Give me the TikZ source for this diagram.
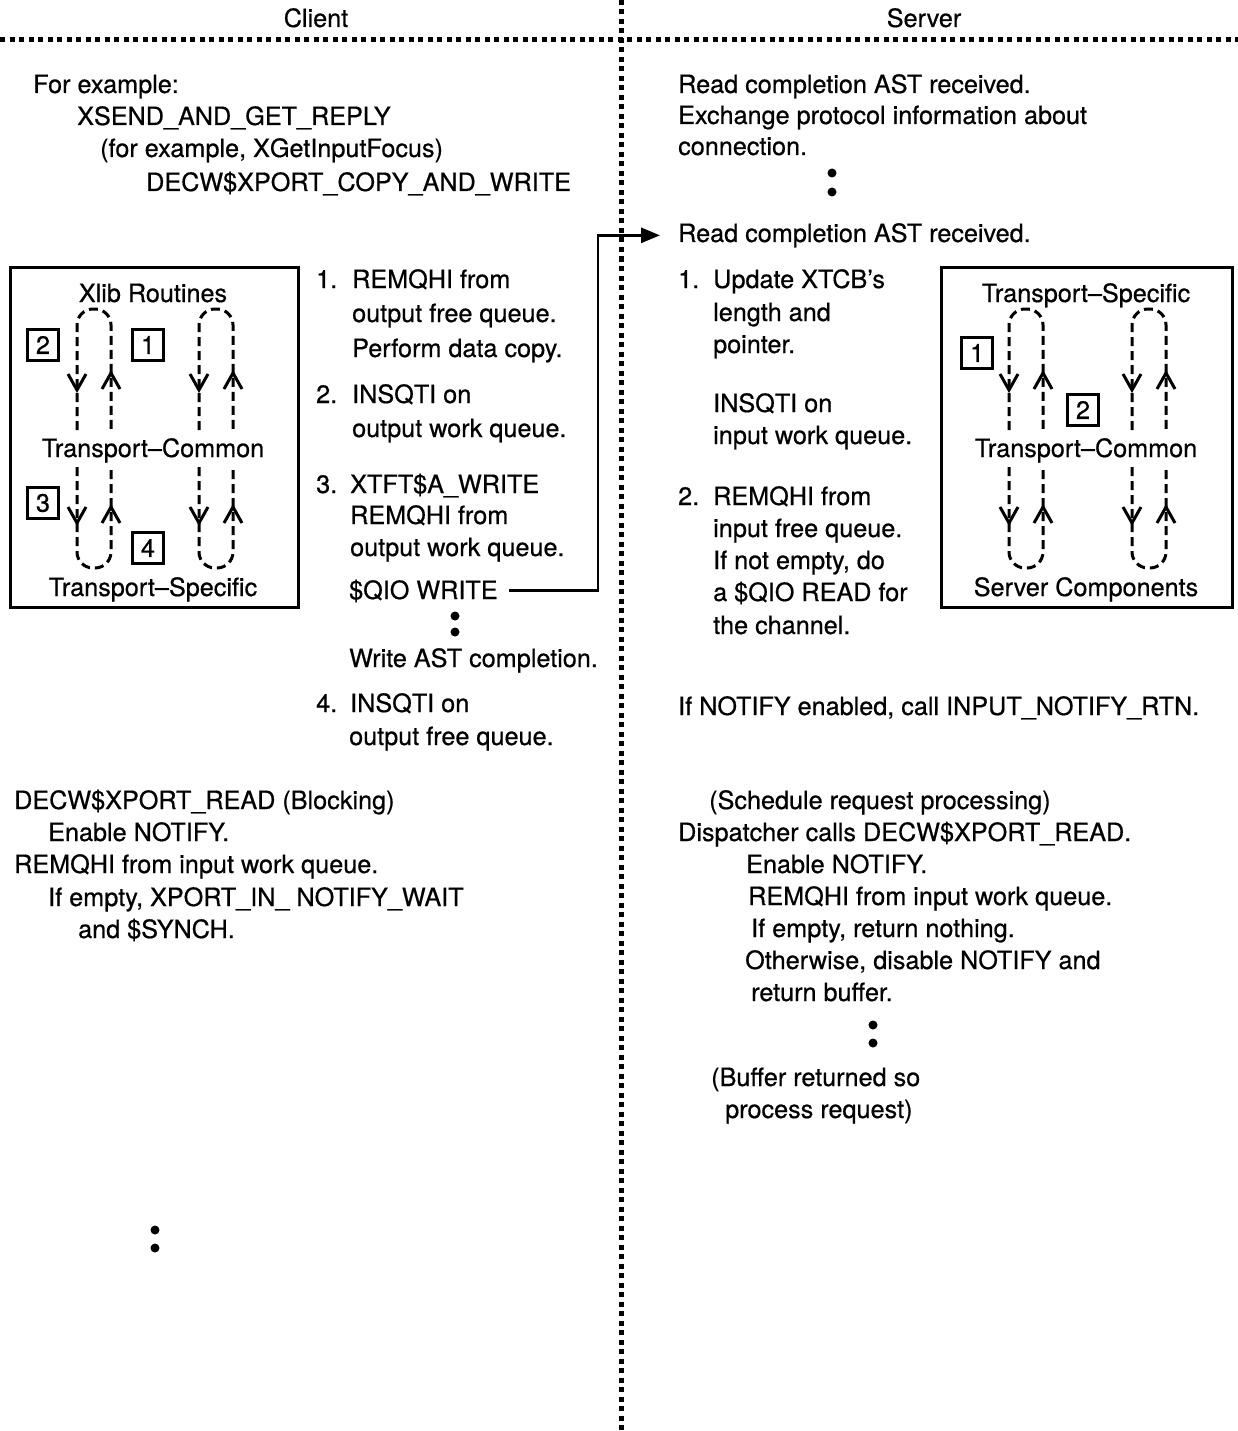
\documentclass[tikz,border=0pt]{standalone}
\usepackage{fontspec}
\setmainfont{TeX Gyre Heros}[FakeBold=0.6]
\usetikzlibrary{arrows.meta}

\tikzset{
  txt/.style={anchor=base west, inner sep=0pt},
  head/.style={anchor=base, inner sep=0pt},
  sepline/.style={line width=5pt, dash pattern=on 5pt off 4.5pt},
  layerbox/.style={draw, line width=3pt},
  numbox/.style={draw, line width=2.6pt, minimum size=31pt, inner sep=0pt},
  loopline/.style={line width=3pt, dash pattern=on 9pt off 5pt, rounded corners=16pt},
  tipline/.style={line width=3pt},
  flowarrow/.style={line width=2.8pt, -{Triangle[length=19pt,width=15pt]}},
}

\begin{document}
\begin{tikzpicture}[x=1pt, y=-1pt, font=\fontsize{25.2}{32}\selectfont]
    \useasboundingbox (0,0) rectangle (1238,1431);

    % headings and separators
    \node[head] (client) at (316,27) {Client};
    \node[head] (server) at (924,27) {Server};
    \draw[sepline] (0,40) -- (1238,40);
    \draw[sepline] (621,0) -- (621,1431);

    % client, top
    \node[txt] (forex) at (33,93) {For example:};
    \node[txt] (xsend) at (77,125) {XSEND\_AND\_GET\_REPLY};
    \node[txt] (getfocus) at (100,157) {(for example, XGetInputFocus)};
    \node[txt] (copywrite) at (146,191) {DECW\$XPORT\_COPY\_AND\_WRITE};

    % server, top
    \node[txt] (readone) at (678,93) {Read completion AST received.};
    \node[txt] (exchange) at (678,124) {Exchange protocol information about};
    \node[txt] (connection) at (678,155) {connection.};
    \fill (832,173) circle[radius=4.5pt] (832,192) circle[radius=4.5pt];
    \node[txt] (readtwo) at (678,242) {Read completion AST received.};

    % layer boxes
    \draw[layerbox] (10,267) rectangle (298,607);
    \draw[layerbox] (941,267) rectangle (1232,607);
    \node[head] (xlib) at (153,302) {Xlib Routines};
    \node[head] (ccommon) at (153,457) {Transport--Common};
    \node[head] (cspecific) at (153,596) {Transport--Specific};
    \node[head] (sspecific) at (1086,302) {Transport--Specific};
    \node[head] (scommon) at (1086,457) {Transport--Common};
    \node[head] (scomps) at (1086,596) {Server Components};
    \foreach \xa in {77,199,1009,1132} {
        \draw[loopline] (\xa,430) -- (\xa,309) -- (\xa+34,309) -- (\xa+34,430);
        \draw[loopline] (\xa,467) -- (\xa,568) -- (\xa+34,568) -- (\xa+34,467);
        \draw[tipline] (\xa-9,374) -- (\xa,390) -- (\xa+9,374);
        \draw[tipline] (\xa+25,389) -- (\xa+34,373) -- (\xa+43,389);
        \draw[tipline] (\xa-9,507) -- (\xa,523) -- (\xa+9,507);
        \draw[tipline] (\xa+25,523) -- (\xa+34,507) -- (\xa+43,523);
    }
    \node[numbox] (cbox2) at (43,345) {2};
    \node[numbox] (cbox1) at (148,345) {1};
    \node[numbox] (cbox3) at (43,503) {3};
    \node[numbox] (cbox4) at (148,548) {4};
    \node[numbox] (sbox1) at (977,353) {1};
    \node[numbox] (sbox2) at (1083,410) {2};

    % client steps
    \node[txt] (cnum1) at (316,288) {1.};
    \node[txt] (cstep1) at (352,288) {REMQHI from};
    \node[txt] (cstep1b) at (352,322) {output free queue.};
    \node[txt] (cstep1c) at (352,357) {Perform data copy.};
    \node[txt] (cnum2) at (316,403) {2.};
    \node[txt] (cstep2) at (352,403) {INSQTI on};
    \node[txt] (cstep2b) at (352,437) {output work queue.};
    \node[txt] (cnum3) at (316,493) {3.};
    \node[txt] (cstep3) at (350,493) {XTFT\$A\_WRITE};
    \node[txt] (cstep3b) at (350,524) {REMQHI from};
    \node[txt] (cstep3c) at (350,556) {output work queue.};
    \node[txt] (qio) at (349,599) {\$QIO WRITE};
    \fill (455,616) circle[radius=4.5pt] (455,632) circle[radius=4.5pt];
    \node[txt] (writeast) at (349,667) {Write AST completion.};
    \node[txt] (cnum4) at (316,712) {4.};
    \node[txt] (cstep4) at (350,712) {INSQTI on};
    \node[txt] (cstep4b) at (349,745) {output free queue.};

    % server steps
    \node[txt] (snum1) at (678,288) {1.};
    \node[txt] (sstep1) at (713,288) {Update XTCB's};
    \node[txt] (sstep1b) at (713,321) {length and};
    \node[txt] (sstep1c) at (713,353) {pointer.};
    \node[txt] (sstep1d) at (713,412) {INSQTI on};
    \node[txt] (sstep1e) at (713,444) {input work queue.};
    \node[txt] (snum2) at (678,505) {2.};
    \node[txt] (sstep2) at (713,505) {REMQHI from};
    \node[txt] (sstep2b) at (713,537) {input free queue.};
    \node[txt] (sstep2c) at (713,569) {If not empty, do};
    \node[txt] (sstep2d) at (713,601) {a \$QIO READ for};
    \node[txt] (sstep2e) at (713,634) {the channel.};
    \node[txt] (notify) at (678,715) {If NOTIFY enabled, call INPUT\_NOTIFY\_RTN.};

    % write request reaches the server
    \coordinate (turn) at (598,400);
    \draw[flowarrow] ([xshift=11pt]qio.east) -| (turn) |- ([xshift=-18pt]readtwo.west);

    % client, blocking read
    \node[txt] (cread) at (14,809) {DECW\$XPORT\_READ (Blocking)};
    \node[txt] (cenable) at (48,841) {Enable NOTIFY.};
    \node[txt] (cremq) at (14,873) {REMQHI from input work queue.};
    \node[txt] (cempty) at (48,906) {If empty, XPORT\_IN\_ NOTIFY\_WAIT};
    \node[txt] (csynch) at (78,938) {and \$SYNCH.};
    \fill (155,1230) circle[radius=4.5pt] (155,1248) circle[radius=4.5pt];

    % server, dispatcher
    \node[txt] (sched) at (709,809) {(Schedule request processing)};
    \node[txt] (dispatch) at (678,841) {Dispatcher calls DECW\$XPORT\_READ.};
    \node[txt] (senable) at (746,873) {Enable NOTIFY.};
    \node[txt] (sremq) at (748,905) {REMQHI from input work queue.};
    \node[txt] (sempty) at (751,937) {If empty, return nothing.};
    \node[txt] (sother) at (745,969) {Otherwise, disable NOTIFY and};
    \node[txt] (sreturn) at (751,1001) {return buffer.};
    \fill (873,1025) circle[radius=4.5pt] (873,1043) circle[radius=4.5pt];
    \node[txt] (bufret) at (711,1086) {(Buffer returned so};
    \node[txt] (procreq) at (725,1118) {process request)};
\end{tikzpicture}
\end{document}
